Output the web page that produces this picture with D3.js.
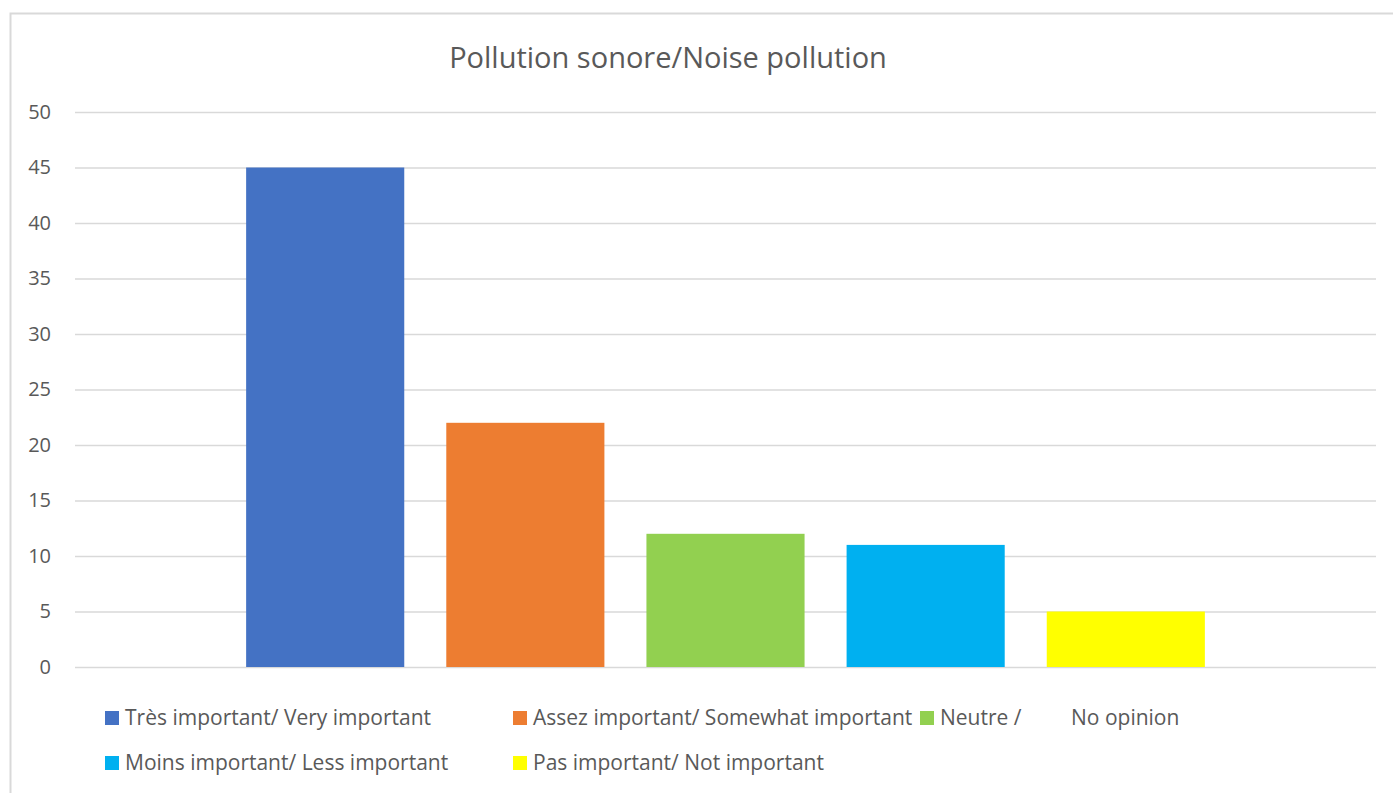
<!DOCTYPE html>
<html>
<head>
<meta charset="utf-8">
<script src="https://cdn.jsdelivr.net/npm/d3@7"></script>
<style>
  body { margin: 0; background: #fff; }
  text { font-family: "Open Sans", "Noto Sans", sans-serif; fill: #595959; }
</style>
</head>
<body>
<script>
// data
var title = "Pollution sonore/Noise pollution";
var series = [
  "Très important/ Very important",
  "Assez important/ Somewhat important",
  "Neutre /\tNo opinion",
  "Moins important/ Less important",
  "Pas important/ Not important"
];
var values = [45, 22, 12, 11, 5];
var colors = ["#4472c4", "#ed7d31", "#92d050", "#00b0f0", "#ffff00"];
var yTicks = [0, 5, 10, 15, 20, 25, 30, 35, 40, 45, 50];

var W = 1393, H = 793;
var margin = {top: 112, right: 17, bottom: 126, left: 75}
  , width = W - margin.left - margin.right
  , height = H - margin.top - margin.bottom;

var svg = d3.select("body").append("svg")
    .attr("width", W)
    .attr("height", H);

// chart border
svg.append("rect")
    .attr("x", 10.5).attr("y", 13.5)
    .attr("width", W + 20).attr("height", H + 20)
    .attr("fill", "none")
    .attr("stroke", "#d9d9d9")
    .attr("stroke-width", 2);

svg.append("text")
    .attr("x", 668).attr("y", 68)
    .attr("text-anchor", "middle")
    .style("font-size", "29px")
    .text(title);

var g = svg.append("g")
    .attr("transform", "translate(" + margin.left + "," + margin.top + ")");

var x = d3.scaleBand()
    .domain(series)
    .range([0, width])
    .paddingInner(0.21)
    .paddingOuter(0.855);

var y = d3.scaleLinear()
    .domain([0, 50])
    .range([height, 0]);

// gridlines
var yAxis = g.append("g")
    .call(d3.axisLeft(y).tickValues(yTicks).tickSize(-width).tickPadding(24));
yAxis.select(".domain").remove();
yAxis.selectAll(".tick line").attr("stroke", "#d9d9d9").attr("stroke-width", 1.5);
yAxis.selectAll(".tick text")
    .style("font-size", "20px")
    .attr("fill", "#595959");

g.selectAll(".bar")
    .data(series)
  .enter().append("rect")
    .attr("class", "bar")
    .attr("x", function(d) { return x(d); })
    .attr("width", x.bandwidth())
    .attr("y", function(d, i) { return y(values[i]); })
    .attr("height", function(d, i) { return height - y(values[i]); })
    .attr("fill", function(d, i) { return colors[i]; });

// legend: 3 columns, 2 rows
var colX = [105, 513, 920];
var legend = svg.selectAll(".legend")
    .data(series)
  .enter().append("g")
    .attr("class", "legend")
    .attr("transform", function(d, i) {
        return "translate(" + colX[i % 3] + "," + (718 + Math.floor(i / 3) * 45) + ")";
    });

legend.append("rect")
    .attr("x", 0).attr("y", -7)
    .attr("width", 14).attr("height", 14)
    .attr("fill", function(d, i) { return colors[i]; });

legend.append("text")
    .attr("x", 20)
    .attr("dy", "0.35em")
    .style("font-size", "21px")
    .each(function(d) {
        var parts = d.split("\t");
        var t = d3.select(this);
        t.append("tspan").text(parts[0]);
        if (parts[1]) t.append("tspan").attr("x", 151).text(parts[1]);
    });
</script>
</body>
</html>
